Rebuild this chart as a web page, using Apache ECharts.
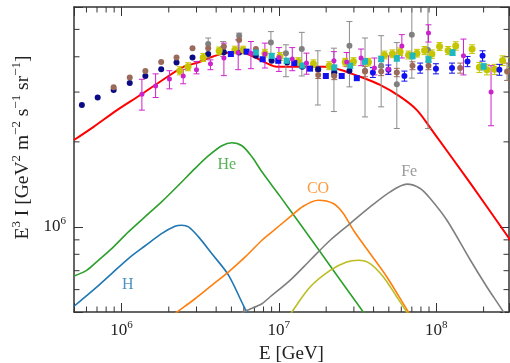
<!DOCTYPE html>
<html>
<head>
<meta charset="utf-8">
<script src="https://cdn.jsdelivr.net/npm/echarts@6.0.0/dist/echarts.min.js"></script>
<style>
  html, body { margin: 0; padding: 0; background: #fff; }
  #chart { width: 510px; height: 363px; }
</style>
</head>
<body>
<div id="chart"></div>
<script>
// model curves, [E (GeV), E^3 I]
const totalCurve = [
  [5.0e5, 2.03e6], [6.66e5, 2.26e6], [9.38e5, 2.59e6], [1.32e6, 2.93e6], [1.77e6, 3.27e6],
  [2.49e6, 3.69e6], [3.0e6, 3.80e6], [3.83e6, 4.01e6], [4.89e6, 4.14e6], [5.66e6, 4.14e6],
  [6.24e6, 4.10e6], [7.23e6, 3.96e6], [8.37e6, 3.80e6], [9.69e6, 3.69e6], [1.178e7, 3.69e6],
  [1.47e7, 3.69e6], [1.97e7, 3.69e6], [2.45e7, 3.60e6], [3.28e7, 3.40e6], [4.40e7, 3.18e6],
  [5.90e7, 2.89e6], [7.54e7, 2.59e6], [9.39e7, 2.20e6], [1.65e8, 1.425e6], [2.96e8, 8.97e5]
];
const hCurve = [
  [5.0e5, 5.24e5], [6.79e5, 6.05e5], [8.68e5, 6.84e5], [1.108e6, 7.73e5], [1.41e6, 8.56e5],
  [1.80e6, 9.47e5], [2.19e6, 1.006e6], [2.42e6, 1.014e6], [2.67e6, 1.0e6], [3.09e6, 9.22e5],
  [3.75e6, 8.05e5], [4.80e6, 6.74e5], [6.27e6, 4.99e5], [7.59e6, 4.27e5]
];
const heCurve = [
  [5.0e5, 6.7e5], [6.01e5, 7.02e5], [7.14e5, 7.62e5], [8.68e5, 8.38e5], [1.108e6, 9.60e5],
  [1.41e6, 1.085e6], [1.80e6, 1.227e6], [2.31e6, 1.406e6], [2.94e6, 1.611e6], [3.58e6, 1.786e6],
  [4.35e6, 1.937e6], [5.03e6, 1.986e6], [5.83e6, 1.937e6], [6.75e6, 1.771e6], [7.81e6, 1.567e6],
  [1.017e7, 1.285e6], [1.363e7, 1.026e6], [1.83e7, 8.17e5], [2.45e7, 6.50e5], [3.45e7, 4.99e5],
  [4.40e7, 4.13e5]
];
const coCurve = [
  [2.0e6, 4.75e5], [2.25e6, 4.99e5], [2.94e6, 5.57e5], [3.75e6, 6.21e5], [4.80e6, 6.93e5],
  [6.12e6, 7.83e5], [7.81e6, 8.97e5], [8.78e6, 9.47e5], [1.178e7, 1.085e6], [1.43e7, 1.184e6],
  [1.78e7, 1.243e6], [2.22e7, 1.21e6], [2.57e7, 1.116e6], [2.98e7, 9.73e5], [3.80e7, 8.05e5],
  [4.86e7, 6.65e5], [6.67e7, 4.99e5], [7.91e7, 4.3e5]
];
const feCurve = [
  [5.0e6, 4.7e5], [5.91e6, 4.98e5], [7.81e6, 5.35e5], [8.78e6, 5.65e5], [1.178e7, 6.47e5],
  [1.58e7, 7.62e5], [2.12e7, 8.97e5], [2.84e7, 1.028e6], [3.80e7, 1.177e6], [5.10e7, 1.331e6],
  [6.51e7, 1.417e6], [7.91e7, 1.368e6], [9.16e7, 1.261e6], [1.17e8, 1.056e6], [1.65e8, 7.62e5],
  [2.10e8, 6.13e5], [2.68e8, 4.99e5], [3.18e8, 4.23e5]
];
const oliveCurve = [
  [1.06e7, 4.5e5], [1.207e7, 4.99e5], [1.58e7, 6.13e5], [2.12e7, 7.02e5], [2.70e7, 7.51e5],
  [3.20e7, 7.62e5], [3.80e7, 7.42e5], [4.62e7, 6.65e5], [5.62e7, 5.65e5], [6.51e7, 4.99e5],
  [7.35e7, 4.48e5]
];

// measured points
const navyPts = [
  [5.61e5, 2.70e6], [7.07e5, 2.87e6], [8.93e5, 3.05e6], [1.13e6, 3.23e6], [1.42e6, 3.42e6],
  [1.79e6, 3.61e6], [2.24e6, 3.82e6], [2.83e6, 3.98e6], [3.56e6, 4.09e6], [4.48e6, 4.15e6],
  [5.60e6, 4.14e6], [7.15e6, 4.03e6], [9.01e6, 3.87e6], [1.13e7, 3.82e6], [1.41e7, 3.69e6],
  [1.78e7, 3.61e6], [2.25e7, 3.52e6], [2.81e7, 3.57e6]
];
// [E, I, err]
const brownPts = [
  [8.93e5, 3.12e6, 0], [1.13e6, 3.38e6, 0], [1.42e6, 3.56e6, 0], [1.79e6, 3.83e6, 0],
  [2.24e6, 3.98e6, 0], [2.83e6, 4.29e6, 0], [3.56e6, 4.29e6, 0], [4.48e6, 4.35e6, 0],
  [5.60e6, 4.59e6, 0], [7.15e6, 4.26e6, 0], [1.78e7, 3.45e6, 0.1e6], [2.25e7, 3.42e6, 0.1e6],
  [3.53e7, 3.55e6, 0.15e6], [4.47e7, 3.55e6, 0.12e6], [5.62e7, 3.52e6, 0.12e6],
  [7.07e7, 3.72e6, 0.12e6], [8.93e7, 3.72e6, 0.12e6], [1.42e8, 3.65e6, 0.15e6],
  [2.82e8, 3.55e6, 0.25e6]
];
const olivePts = [
  [2.35e6, 3.57e6, 0.12e6], [2.65e6, 3.69e6, 0.12e6], [3.31e6, 3.98e6, 0.13e6], [4.18e6, 4.20e6, 0.13e6],
  [5.26e6, 4.23e6, 0.13e6], [5.94e6, 4.23e6, 0.13e6], [8.16e6, 4.12e6, 0.13e6], [1.017e7, 4.01e6, 0.13e6],
  [1.33e7, 3.85e6, 0.12e6], [1.66e7, 3.78e6, 0.12e6], [2.09e7, 3.72e6, 0.12e6], [2.64e7, 3.83e6, 0.12e6],
  [2.98e7, 3.85e6, 0.12e6], [3.71e7, 3.83e6, 0.12e6], [4.69e7, 4.06e6, 0.13e6], [5.27e7, 4.10e6, 0.13e6],
  [5.90e7, 4.17e6, 0.13e6], [6.67e7, 4.06e6, 0.13e6], [7.54e7, 4.12e6, 0.13e6], [8.43e7, 4.21e6, 0.14e6],
  [9.39e7, 4.09e6, 0.14e6], [1.05e8, 4.35e6, 0.14e6], [1.19e8, 4.21e6, 0.14e6], [1.33e8, 4.37e6, 0.15e6],
  [1.69e8, 4.26e6, 0.15e6], [1.88e8, 3.67e6, 0.15e6], [2.10e8, 3.60e6, 0.15e6], [2.35e8, 3.61e6, 0.15e6],
  [2.64e8, 3.88e6, 0.15e6], [2.96e8, 3.82e6, 0.15e6]
];
const cyanPts = [
  [7.15e6, 4.14e6, 0.08e6], [9.01e6, 4.03e6, 0.08e6], [1.122e7, 3.87e6, 0.08e6], [1.41e7, 3.72e6, 0.08e6],
  [2.25e7, 3.66e6, 0.08e6], [2.84e7, 3.72e6, 0.08e6], [3.53e7, 3.85e6, 0.09e6], [4.47e7, 3.93e6, 0.09e6],
  [5.62e7, 3.95e6, 0.09e6], [7.07e7, 4.03e6, 0.1e6], [8.93e7, 3.92e6, 0.1e6], [1.27e8, 4.14e6, 0.1e6],
  [2.00e8, 3.69e6, 0.1e6]
];
const blueSqPts = [
  [4.96e6, 4.09e6], [6.24e6, 4.17e6], [7.89e6, 3.92e6], [9.92e6, 3.87e6], [1.254e7, 3.80e6],
  [1.58e7, 3.63e6], [1.99e7, 3.42e6], [2.51e7, 3.42e6], [3.13e7, 3.36e6]
];
const bluePts = [
  [3.96e7, 3.52e6, 0.14e6], [4.97e7, 3.60e6, 0.14e6], [6.28e7, 3.42e6, 0.14e6], [7.91e7, 3.65e6, 0.15e6],
  [9.96e7, 3.63e6, 0.15e6], [1.26e8, 3.65e6, 0.15e6], [1.58e8, 3.85e6, 0.16e6], [1.97e8, 4.03e6, 0.17e6],
  [2.52e8, 3.60e6, 0.16e6]
];
// [E, I, low, high]
const magentaPts = [
  [1.35e6, 2.95e6, 2.59e6, 3.33e6], [1.65e6, 3.15e6, 2.87e6, 3.48e6], [2.02e6, 3.34e6, 3.08e6, 3.57e6],
  [2.47e6, 3.42e6, 3.21e6, 3.61e6], [3.0e6, 3.60e6, 3.48e6, 3.85e6], [3.68e6, 3.78e6, 3.60e6, 3.90e6],
  [4.48e6, 3.96e6, 3.43e6, 4.47e6], [5.52e6, 4.14e6, 3.60e6, 4.59e6], [6.65e6, 4.12e6, 3.63e6, 4.53e6],
  [8.16e6, 4.09e6, 3.65e6, 4.47e6], [1.002e7, 3.98e6, 3.55e6, 4.31e6], [1.218e7, 3.93e6, 3.57e6, 4.31e6],
  [1.50e7, 3.80e6, 3.47e6, 4.12e6], [2.24e7, 3.87e6, 3.57e6, 4.17e6], [2.70e7, 3.83e6, 3.69e6, 4.14e6],
  [3.33e7, 3.96e6, 3.72e6, 4.26e6], [4.05e7, 3.65e6, 3.45e6, 3.96e6], [4.97e7, 3.61e6, 3.48e6, 4.03e6],
  [6.05e7, 4.37e6, 3.96e6, 4.79e6], [8.93e7, 4.85e6, 4.51e6, 5.19e6], [1.49e8, 4.03e6, 3.45e6, 4.62e6],
  [2.23e8, 3.00e6, 2.28e6, 3.72e6]
];
const greyPts = [
  [3.56e6, 4.44e6, 3.96e6, 4.66e6], [4.43e6, 4.30e6, 4.01e6, 4.53e6], [5.60e6, 4.75e6, 4.29e6, 4.85e6],
  [8.91e6, 4.49e6, 3.90e6, 4.91e6], [1.11e7, 4.12e6, 3.40e6, 4.41e6], [1.40e7, 4.26e6, 3.42e6, 4.88e6],
  [1.77e7, 3.61e6, 2.70e6, 4.20e6], [2.24e7, 3.45e6, 2.56e6, 4.29e6], [2.81e7, 4.38e6, 3.13e6, 5.33e6],
  [3.53e7, 3.57e6, 2.45e6, 4.66e6], [4.47e7, 3.72e6, 2.66e6, 4.75e6], [5.62e7, 3.20e6, 2.23e6, 4.49e6],
  [7.00e7, 4.79e6, 3.36e6, 6.3e6], [8.86e7, 4.23e6, 2.23e6, 6.3e6]
];

const curveLabels = [
  { name: 'H', E: 1.097e6, I: 6.26e5, color: '#1f77b4' },
  { name: 'He', E: 4.68e6, I: 1.655e6, color: '#2ca02c' },
  { name: 'CO', E: 1.775e7, I: 1.36e6, color: '#ff7f0e' },
  { name: 'Fe', E: 6.73e7, I: 1.563e6, color: '#7f7f7f' }
];

const xMinorTicks = [6e5, 7e5, 8e5, 9e5, 2e6, 3e6, 4e6, 5e6, 6e6, 7e6, 8e6, 9e6,
  2e7, 3e7, 4e7, 5e7, 6e7, 7e7, 8e7, 9e7, 2e8];
const yMinorTicks = [6e5, 7e5, 8e5, 9e5, 2e6, 3e6, 4e6, 5e6];

const xMin = 5e5, xMax = 2.9e8, yMin = 5e5, yMax = 6e6;
const serif = 'Liberation Serif';
const ink = '#222';
const frame = '#333';

const richTick = {
  b: { fontFamily: serif, fontSize: 17, color: ink, lineHeight: 22 },
  s: { fontFamily: serif, fontSize: 11, color: ink, lineHeight: 12, verticalAlign: 'top' }
};

function powLabel(v) {
  const l = Math.log10(v);
  const e = Math.round(l);
  return Math.abs(l - e) < 1e-6 ? '{b|10}{s|' + e + '}' : '';
}

function axisBase(show) {
  return {
    type: 'log',
    logBase: 10,
    splitLine: { show: false },
    axisLine: { show: true, lineStyle: { color: frame, width: 1.5 } },
    axisTick: { show: true, inside: true, length: 9, lineStyle: { color: frame, width: 1 } },
    axisLabel: show
      ? { formatter: powLabel, rich: richTick, margin: 8 }
      : { show: false }
  };
}

function curve(data, color, width, z) {
  return {
    type: 'line',
    data,
    showSymbol: false,
    smooth: 0.3,
    clip: true,
    z,
    lineStyle: { color, width },
    silent: true
  };
}

function withErr(pts) {
  return pts.filter(p => p[2] > 0).map(p => [p[0], p[1], p[1] - p[2], p[1] + p[2]]);
}

function errBars(data, color, cap) {
  return {
    type: 'custom',
    data,
    clip: true,
    silent: true,
    z: 3,
    encode: { x: 0, y: 1 },
    renderItem: (params, api) => {
      const x = api.value(0);
      const lo = api.coord([x, api.value(2)]);
      const hi = api.coord([x, api.value(3)]);
      const st = { stroke: color, lineWidth: 1 };
      return {
        type: 'group',
        children: [
          { type: 'line', shape: { x1: lo[0], y1: lo[1], x2: hi[0], y2: hi[1] }, style: st },
          { type: 'line', shape: { x1: lo[0] - cap, y1: lo[1], x2: lo[0] + cap, y2: lo[1] }, style: st },
          { type: 'line', shape: { x1: hi[0] - cap, y1: hi[1], x2: hi[0] + cap, y2: hi[1] }, style: st }
        ]
      };
    }
  };
}

function dots(data, color, symbol, size) {
  return {
    type: 'scatter',
    data: data.map(p => [p[0], p[1]]),
    symbol,
    symbolSize: size,
    itemStyle: { color, opacity: 1 },
    silent: true,
    z: 4
  };
}

function minorTicks(values, isX) {
  return {
    type: 'custom',
    silent: true,
    z: 1,
    data: values.map(v => (isX ? [v, yMin] : [xMin, v])),
    encode: { x: 0, y: 1 },
    renderItem: (params, api) => {
      const st = { stroke: frame, lineWidth: 1 };
      const len = 5.5;
      if (isX) {
        const v = api.value(0);
        const b = api.coord([v, yMin]);
        const t = api.coord([v, yMax]);
        return {
          type: 'group',
          children: [
            { type: 'line', shape: { x1: b[0], y1: b[1], x2: b[0], y2: b[1] - len }, style: st },
            { type: 'line', shape: { x1: t[0], y1: t[1], x2: t[0], y2: t[1] + len }, style: st }
          ]
        };
      }
      const v = api.value(1);
      const l = api.coord([xMin, v]);
      const r = api.coord([xMax, v]);
      return {
        type: 'group',
        children: [
          { type: 'line', shape: { x1: l[0], y1: l[1], x2: l[0] + len, y2: l[1] }, style: st },
          { type: 'line', shape: { x1: r[0], y1: r[1], x2: r[0] - len, y2: r[1] }, style: st }
        ]
      };
    }
  };
}

const myChart = echarts.init(document.getElementById('chart'), null, { renderer: 'canvas' });

const option = {
  backgroundColor: '#fff',
  animation: false,
  grid: { left: 74, right: 1, top: 7, bottom: 51, containLabel: false, outerBoundsMode: 'none' },
  xAxis: [
    Object.assign(axisBase(true), {
      min: xMin, max: xMax, position: 'bottom',
      name: 'E [GeV]', nameLocation: 'middle', nameGap: 31,
      nameTextStyle: { fontFamily: serif, fontSize: 19, color: ink }
    }),
    Object.assign(axisBase(false), { min: xMin, max: xMax, position: 'top' })
  ],
  yAxis: [
    Object.assign(axisBase(true), {
      min: yMin, max: yMax, position: 'left',
      name: '{b|E}{s|3}{b| I [GeV}{s|2}{b| m}{s|\u22122}{b| s}{s|\u22121}{b| sr}{s|\u22121}{b|]}',
      nameLocation: 'middle', nameGap: 36, nameRotate: 90,
      nameTextStyle: {
        padding: [0, 0, 0, 24],
        rich: {
          b: { fontFamily: serif, fontSize: 19.5, color: ink, lineHeight: 26 },
          s: { fontFamily: serif, fontSize: 13, color: ink, lineHeight: 14, verticalAlign: 'top' }
        }
      }
    }),
    Object.assign(axisBase(false), { min: yMin, max: yMax, position: 'right' })
  ],
  series: [
    minorTicks(xMinorTicks, true),
    minorTicks(yMinorTicks, false),
    curve(hCurve, '#1f77b4', 1.6, 2),
    curve(heCurve, '#2ca02c', 1.6, 2),
    curve(coCurve, '#ff7f0e', 1.6, 2),
    curve(feCurve, '#7f7f7f', 1.6, 2),
    curve(oliveCurve, '#bcbd22', 1.6, 2),
    curve(totalCurve, '#ff0000', 2, 2),
    errBars(greyPts, '#8c8c8c', 3),
    errBars(magentaPts, '#cc22cc', 3),
    errBars(withErr(brownPts), '#9a6b5b', 3),
    errBars(withErr(olivePts), '#c5c500', 3),
    errBars(withErr(cyanPts), '#20b8c0', 3),
    errBars(withErr(bluePts), '#1010f0', 3),
    dots(greyPts, '#808080', 'circle', 6),
    dots(navyPts, '#0b0b85', 'circle', 6),
    dots(brownPts, '#9a6b5b', 'circle', 6),
    dots(olivePts, '#c5c500', 'circle', 7),
    dots(blueSqPts, '#1010f0', 'rect', 6),
    dots(bluePts, '#1010f0', 'circle', 6),
    dots(cyanPts, '#20b8c0', 'rect', 6),
    dots(magentaPts, '#cc22cc', 'circle', 5),
    {
      type: 'scatter',
      silent: true,
      z: 5,
      symbolSize: 0,
      data: curveLabels.map(c => ({
        name: c.name,
        value: [c.E, c.I],
        label: { color: c.color }
      })),
      label: {
        show: true,
        position: 'inside',
        formatter: p => p.name,
        fontFamily: serif,
        fontSize: 16
      }
    }
  ]
};

myChart.setOption(option);
</script>
</body>
</html>
